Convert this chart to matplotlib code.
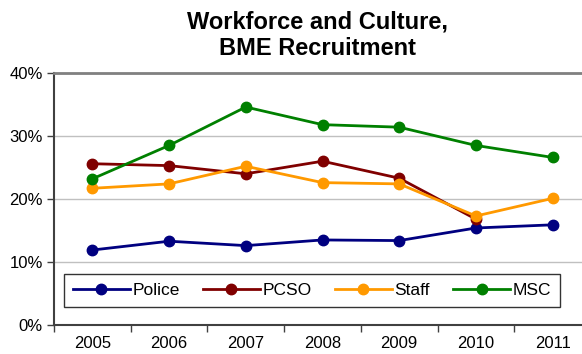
import matplotlib.pyplot as plt
from matplotlib.ticker import FuncFormatter

plt.rcParams['font.family'] = ['Liberation Sans', 'DejaVu Sans']

years = ['2005', '2006', '2007', '2008', '2009', '2010', '2011']
police = [11.9, 13.3, 12.6, 13.5, 13.4, 15.4, 15.9]
pcso = [25.6, 25.3, 24.0, 26.0, 23.3, 16.8, None]
staff = [21.7, 22.4, 25.2, 22.6, 22.4, 17.3, 20.1]
msc = [23.2, 28.5, 34.6, 31.8, 31.4, 28.5, 26.6]

series = [('Police', police, '#000080'),
          ('PCSO', pcso, '#800000'),
          ('Staff', staff, '#ff9900'),
          ('MSC', msc, '#008000')]

fig = plt.figure(figsize=(5.82, 3.54), dpi=100)
# plot area runs a little past the right edge of the figure
ax = fig.add_axes([54 / 582, 29 / 354, 537 / 582, 252 / 354])

x = list(range(len(years)))
for name, vals, col in series:
    xs = [i for i, v in zip(x, vals) if v is not None]
    ys = [v for v in vals if v is not None]
    ax.plot(xs, ys, color=col, lw=2, marker='o', ms=7.5, label=name)

ax.set_xlim(-0.5, len(years) - 0.5)
ax.set_ylim(0, 40)
ax.set_yticks([0, 10, 20, 30, 40])
ax.yaxis.set_major_formatter(FuncFormatter(lambda v, p: f'{v:.0f}%'))
ax.set_xticks(x)
ax.set_xticklabels(years)
ax.set_xticks([i - 0.5 for i in range(len(years) + 1)], minor=True)
ax.tick_params(axis='x', which='major', length=0, pad=8, labelsize=12)
ax.tick_params(axis='x', which='minor', length=5, width=1, direction='out', color='#404040')
ax.tick_params(axis='y', length=5, width=1, color='#404040', labelsize=12, pad=3)
ax.grid(axis='y', color='#c0c0c0', lw=1)
ax.set_axisbelow(True)

for s in ['left', 'bottom']:
    ax.spines[s].set_color('#404040')
    ax.spines[s].set_linewidth(1.5)
ax.spines['top'].set_color('#808080')
ax.spines['top'].set_linewidth(2)
ax.spines['right'].set_visible(False)

leg = ax.legend(loc='center', bbox_to_anchor=(10 / 537, 17 / 252, 496 / 537, 35 / 252),
                mode='expand', ncol=4, fontsize=12.5, frameon=True, fancybox=False,
                edgecolor='black', handlelength=3.3, handletextpad=0.15, borderaxespad=0,
                borderpad=0.5)
leg.get_frame().set_linewidth(1)

fig.text(318 / 582, 1 - 35 / 354, 'Workforce and Culture,\nBME Recruitment',
         ha='center', va='center', fontsize=17, fontweight='bold', linespacing=1.2)

fig.savefig('out.png', dpi=100)
